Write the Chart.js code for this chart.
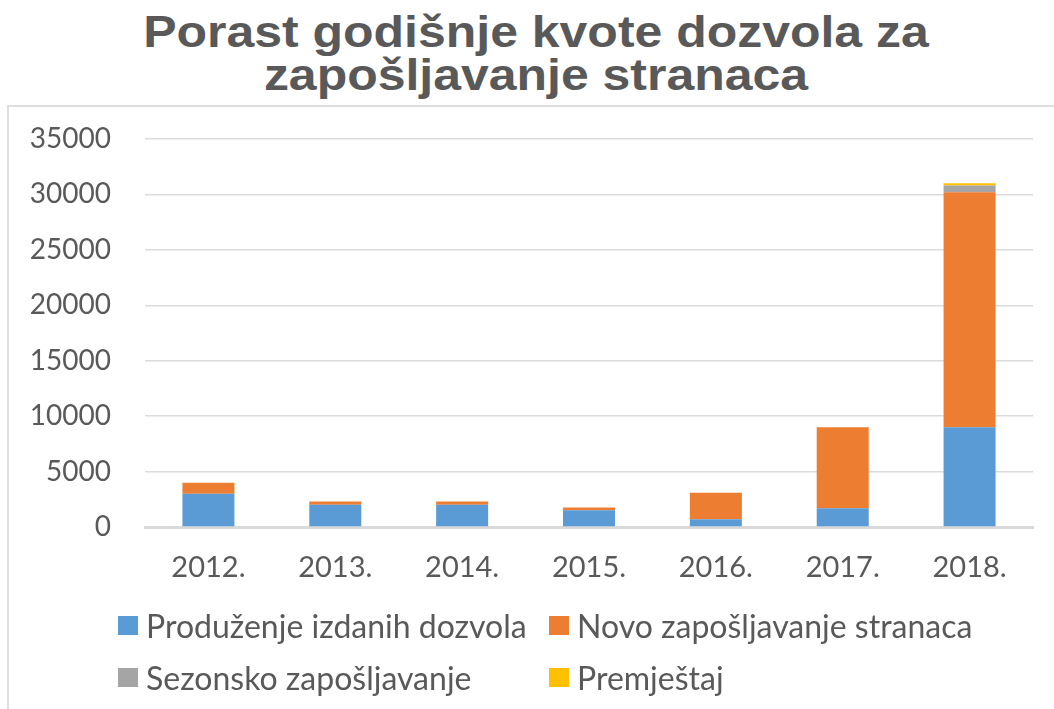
<!DOCTYPE html>
<html>
<head>
<meta charset="utf-8">
<script src="https://cdn.jsdelivr.net/npm/chart.js@4/dist/chart.umd.min.js"></script>
<style>
  html, body { margin: 0; padding: 0; background: #fff; width: 1054px; height: 709px; overflow: hidden; }
  #title {
    position: absolute; left: 0; top: 10px; width: 1072px; text-align: center;
    font: bold 45px "Liberation Sans", Arial, sans-serif; line-height: 43px;
    color: #595959; transform: scaleX(1.11); transform-origin: 536px 0;
  }
  #frame {
    position: absolute; left: 7px; top: 105px; width: 1100px; height: 700px;
    border: 2px solid #dedede; box-sizing: border-box;
  }
  #wrap { position: absolute; left: 0; top: 106px; width: 1054px; height: 603px; }
  #legend { position: absolute; left: 0; top: 0; width: 1054px; height: 709px; pointer-events: none; }
  .item { position: absolute; height: 30px; display: flex; align-items: center; }
  .box { width: 20px; height: 19px; margin-right: 8px; }
  .lbl { font: 32px Lato, sans-serif; color: #595959; white-space: nowrap; }
</style>
</head>
<body>
<div id="title">Porast godišnje kvote dozvola za<br>zapošljavanje stranaca</div>
<div id="frame"></div>
<div id="wrap"><canvas id="c"></canvas></div>
<div id="legend"></div>
<script>
// Annual quota of work permits for foreigners, by permit type
const years = ['2012.', '2013.', '2014.', '2015.', '2016.', '2017.', '2018.'];
const produzenje = [3000, 2000, 2000, 1500, 700, 1700, 9000];
const novo = [1000, 300, 300, 250, 2400, 7300, 21200];
const sezonsko = [0, 0, 0, 0, 0, 0, 600];
const premjestaj = [0, 0, 0, 0, 0, 0, 200];

const seriesNames = ['Produženje izdanih dozvola', 'Novo zapošljavanje stranaca', 'Sezonsko zapošljavanje', 'Premještaj'];
const seriesColors = ['#5B9BD5', '#ED7D31', '#A5A5A5', '#FFC000'];
const yTicks = [0, 5000, 10000, 15000, 20000, 25000, 30000, 35000];

const seriesData = [produzenje, novo, sezonsko, premjestaj];
const textColor = '#595959';

const chart = new Chart(document.getElementById('c'), {
  type: 'bar',
  data: {
    labels: years,
    datasets: seriesData.map((d, i) => ({
      label: seriesNames[i],
      data: d,
      backgroundColor: seriesColors[i],
      borderWidth: 0,
      categoryPercentage: 1,
      barPercentage: 0.41
    }))
  },
  options: {
    responsive: true,
    maintainAspectRatio: false,
    animation: false,
    layout: { padding: { top: 33, right: 21, bottom: 102, left: 0 } },
    plugins: {
      legend: { display: false },
      title: { display: false },
      tooltip: { enabled: false }
    },
    scales: {
      x: {
        stacked: true,
        grid: { display: false, drawTicks: false },
        border: { display: true, color: '#d9d9d9', width: 3 },
        ticks: { color: textColor, font: { family: 'Lato', size: 29 }, padding: 23 },
        afterFit: (s) => { s.height = 80; }
      },
      y: {
        stacked: true,
        min: 0,
        max: 35000,
        afterBuildTicks: (s) => { s.ticks = yTicks.map(v => ({ value: v })); },
        grid: { color: '#dcdcdc', lineWidth: 1.5, drawTicks: false },
        border: { display: false },
        ticks: {
          color: textColor, font: { family: 'Lato', size: 28 }, padding: 34,
          callback: (v) => String(v)
        },
        afterFit: (s) => { s.width = 145; s.paddingTop = 0; s.paddingBottom = 0; }
      }
    }
  }
});

// Legend laid out in two aligned columns
const legendPos = [[118, 610], [549, 610], [118, 662], [549, 662]];
const legend = document.getElementById('legend');
chart.data.datasets.forEach((ds, i) => {
  const item = document.createElement('div');
  item.className = 'item';
  item.style.left = legendPos[i][0] + 'px';
  item.style.top = legendPos[i][1] + 'px';
  const box = document.createElement('span');
  box.className = 'box';
  box.style.background = ds.backgroundColor;
  const lbl = document.createElement('span');
  lbl.className = 'lbl';
  lbl.textContent = ds.label;
  item.appendChild(box);
  item.appendChild(lbl);
  legend.appendChild(item);
});
</script>
</body>
</html>
